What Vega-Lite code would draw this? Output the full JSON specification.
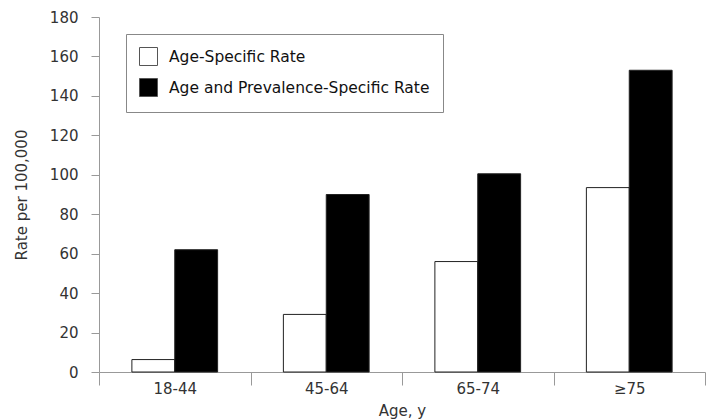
{
  "$schema": "https://vega.github.io/schema/vega-lite/v6.json",
  "width": 606,
  "height": 355,
  "autosize": "none",
  "padding": {"left": 99, "top": 17, "right": 9, "bottom": 47},
  "background": "white",
  "config": {
    "view": {"stroke": null},
    "font": "DejaVu Sans",
    "axis": {"labelFont": "DejaVu Sans", "titleFont": "DejaVu Sans", "labelColor": "#333333", "titleColor": "#333333", "domainColor": "#999999", "tickColor": "#999999", "labelFontSize": 15, "titleFontSize": 15, "titleFontWeight": "normal", "grid": false}
  },
  "data": {
    "values": [
      {"age": "18-44", "series": "Age-Specific Rate", "rate": 6.3},
      {"age": "18-44", "series": "Age and Prevalence-Specific Rate", "rate": 62},
      {"age": "45-64", "series": "Age-Specific Rate", "rate": 29.2},
      {"age": "45-64", "series": "Age and Prevalence-Specific Rate", "rate": 90},
      {"age": "65-74", "series": "Age-Specific Rate", "rate": 56},
      {"age": "65-74", "series": "Age and Prevalence-Specific Rate", "rate": 100.5},
      {"age": "≥75", "series": "Age-Specific Rate", "rate": 93.5},
      {"age": "≥75", "series": "Age and Prevalence-Specific Rate", "rate": 153}
    ]
  },
  "mark": {"type": "bar", "stroke": "#222222", "strokeWidth": 1},
  "encoding": {
    "x": {
      "field": "age", "type": "nominal", "sort": ["18-44", "45-64", "65-74", "≥75"],
      "scale": {"paddingInner": 0, "paddingOuter": 0},
      "axis": {"title": "Age, y", "labelAngle": 0, "tickBand": "extent", "tickSize": 13, "labelPadding": -4, "titlePadding": 7}
    },
    "xOffset": {
      "field": "series", "type": "nominal", "sort": ["Age-Specific Rate", "Age and Prevalence-Specific Rate"],
      "scale": {"paddingOuter": 0.767, "paddingInner": 0}
    },
    "y": {
      "field": "rate", "type": "quantitative",
      "scale": {"domain": [0, 180], "nice": false},
      "axis": {"title": "Rate per 100,000", "values": [0, 20, 40, 60, 80, 100, 120, 140, 160, 180], "tickSize": 8, "labelPadding": 13, "titlePadding": 20}
    },
    "fill": {
      "field": "series", "type": "nominal", "sort": ["Age-Specific Rate", "Age and Prevalence-Specific Rate"],
      "scale": {"domain": ["Age-Specific Rate", "Age and Prevalence-Specific Rate"], "range": ["#ffffff", "#000000"]},
      "legend": {
        "title": null, "orient": "none", "legendX": 27, "legendY": 17,
        "symbolType": "square", "symbolSize": 324, "symbolStrokeColor": "#555555", "symbolStrokeWidth": 1,
        "labelFontSize": 15.5, "labelFont": "DejaVu Sans", "labelColor": "#111111", "labelOffset": 11, "labelLimit": 400,
        "rowPadding": 8, "padding": 13, "strokeColor": "#888888", "fillColor": "white", "symbolOpacity": 1
      }
    }
  }
}
